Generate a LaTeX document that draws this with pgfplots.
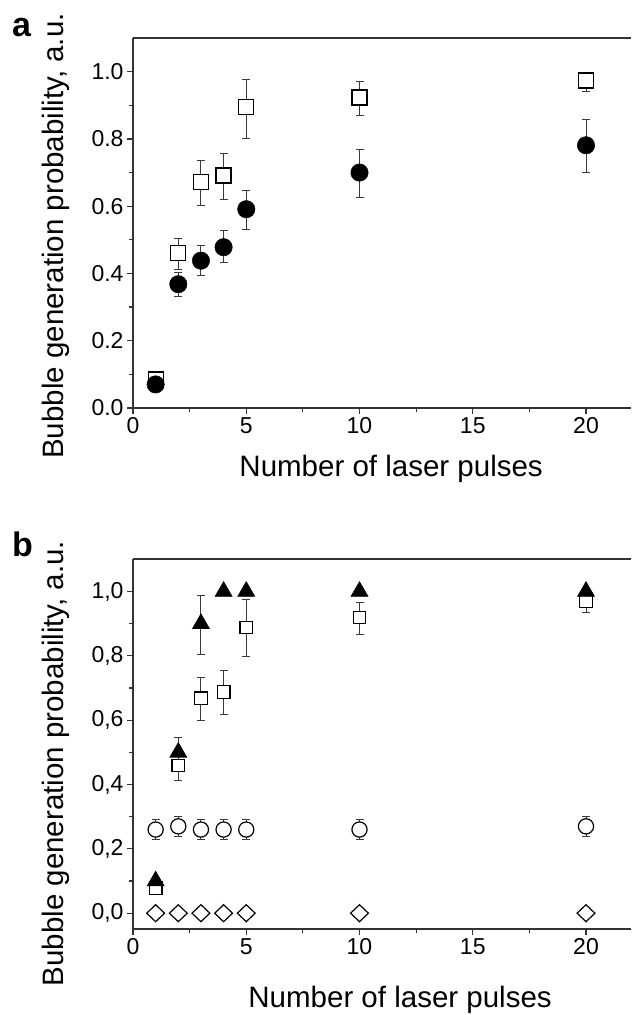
\documentclass[border=0pt]{standalone}
\usepackage{fontspec}
\setmainfont{Liberation Sans}
\usepackage{pgfplots}
\pgfplotsset{compat=1.18}
\definecolor{axgray}{HTML}{333333}
\definecolor{errgray}{HTML}{3A3A3A}
\pgfplotsset{
  panel/.style={
    width=498.3bp, height=370bp, scale only axis,
    xmin=0, xmax=22,
    separate axis lines,
    axis x line*=box, axis y line*=left,
    axis line style={axgray, line width=1.6bp},
    xtick={0,5,10,15,20}, minor x tick num=1,
    ytick={0,0.2,0.4,0.6,0.8,1.0}, minor y tick num=1,
    xtick pos=left, ytick pos=left,
    tick align=outside,
    major tick length=6bp, minor tick length=4bp,
    every tick/.style={axgray, line width=1.2bp},
    tick label style={font=\fontsize{23bp}{26bp}\selectfont},
    /pgf/number format/assume math mode=true,
    yticklabel style={/pgf/number format/.cd, fixed, fixed zerofill, precision=1},
    clip=false,
  },
  eb/.style={error bars/.cd, y dir=both, y explicit,
    error bar style={line width=1bp, errgray},
    error mark options={rotate=90, mark size=4bp, line width=1bp, errgray}},
}
\begin{document}
\begin{tikzpicture}
% ---------------- panel a ----------------
\begin{axis}[panel, at={(133bp,607bp)}, anchor=south west,
  ymin=0, ymax=1.1,
  xlabel={Number of laser pulses},
  ylabel={Bubble generation probability, a.u.},
  every axis x label/.style={at={(rel axis cs:0.518,-0.1865)}, anchor=base, font=\fontsize{29.5bp}{34bp}\selectfont},
  every axis y label/.style={at={(rel axis cs:-0.1385,0.465)}, rotate=90, anchor=base, font=\fontsize{29.5bp}{34bp}\selectfont},
]
\addplot[only marks, mark=square*, mark size=7.5bp,
  mark options={draw=black, fill=white, line width=1.3bp}, eb]
coordinates {
 (1,0.085) += (0,0.01) -= (0,0.01)
 (2,0.460) += (0,0.043) -= (0,0.047)
 (3,0.672) += (0,0.064) -= (0,0.071)
 (4,0.691) += (0,0.066) -= (0,0.070)
 (5,0.894) += (0,0.084) -= (0,0.094)
 (10,0.923) += (0,0.047) -= (0,0.052)
 (20,0.974) += (0,0.020) -= (0,0.034)
};
\addplot[only marks, mark=*, mark size=8.7bp,
  mark options={draw=black, fill=black, line width=0.5bp}, eb]
coordinates {
 (1,0.070) += (0,0.01) -= (0,0.01)
 (2,0.368) += (0,0.035) -= (0,0.037)
 (3,0.438) += (0,0.044) -= (0,0.044)
 (4,0.478) += (0,0.049) -= (0,0.046)
 (5,0.591) += (0,0.057) -= (0,0.061)
 (10,0.700) += (0,0.068) -= (0,0.073)
 (20,0.781) += (0,0.078) -= (0,0.081)
};
\end{axis}
% ---------------- panel b ----------------
\begin{axis}[panel, at={(133bp,85.7bp)}, anchor=south west,
  ymin=-0.05, ymax=1.1,
  yticklabel style={/pgf/number format/.cd, fixed, fixed zerofill, precision=1, use comma},
  xlabel={Number of laser pulses},
  ylabel={Bubble generation probability, a.u.},
  every axis x label/.style={at={(rel axis cs:0.536,-0.211)}, anchor=base, font=\fontsize{29.5bp}{34bp}\selectfont},
  every axis y label/.style={at={(rel axis cs:-0.1385,0.448)}, rotate=90, anchor=base, font=\fontsize{29.5bp}{34bp}\selectfont},
]
\addplot[only marks, mark=diamond*, mark size=8.5bp,
  mark options={draw=black, fill=white, line width=1.2bp, xscale=1.4}]
coordinates {(1,0) (2,0) (3,0) (4,0) (5,0) (10,0) (20,0)};
\addplot[only marks, mark=*, mark size=7.6bp,
  mark options={draw=black, fill=white, line width=1.2bp}, eb]
coordinates {
 (1,0.26) += (0,0.03) -= (0,0.031)
 (2,0.27) += (0,0.031) -= (0,0.031)
 (3,0.26) += (0,0.03) -= (0,0.031)
 (4,0.26) += (0,0.03) -= (0,0.031)
 (5,0.26) += (0,0.03) -= (0,0.031)
 (10,0.26) += (0,0.03) -= (0,0.031)
 (20,0.27) += (0,0.031) -= (0,0.031)
};
\addplot[only marks, mark=square*, mark size=6.3bp,
  mark options={draw=black, fill=white, line width=1.2bp}, eb]
coordinates {
 (1,0.078) += (0,0.02) -= (0,0.02)
 (2,0.459) += (0,0.045) -= (0,0.048)
 (3,0.668) += (0,0.064) -= (0,0.069)
 (4,0.687) += (0,0.067) -= (0,0.069)
 (5,0.888) += (0,0.088) -= (0,0.090)
 (10,0.919) += (0,0.047) -= (0,0.053)
 (20,0.970) += (0,0.020) -= (0,0.034)
};
\addplot[only marks, mark=triangle*, mark size=9.8bp,
  mark options={draw=black, fill=black, line width=0.6bp}, eb]
coordinates {
 (1,0.10) += (0,0) -= (0,0)
 (2,0.50) += (0,0.045) -= (0,0.045)
 (3,0.90) += (0,0.086) -= (0,0.095)
 (4,1.00) += (0,0) -= (0,0)
 (5,1.00) += (0,0) -= (0,0)
 (10,1.00) += (0,0) -= (0,0)
 (20,1.00) += (0,0) -= (0,0)
};
\end{axis}
\node[anchor=base west, inner sep=0pt, font=\bfseries\fontsize{34bp}{40bp}\selectfont] at (12bp,978bp) {a};
\node[anchor=base west, inner sep=0pt, font=\bfseries\fontsize{34bp}{40bp}\selectfont] at (12bp,458bp) {b};
\pgfresetboundingbox
\path[use as bounding box] (0,0) rectangle (632bp,1015bp);
\end{tikzpicture}
\end{document}
